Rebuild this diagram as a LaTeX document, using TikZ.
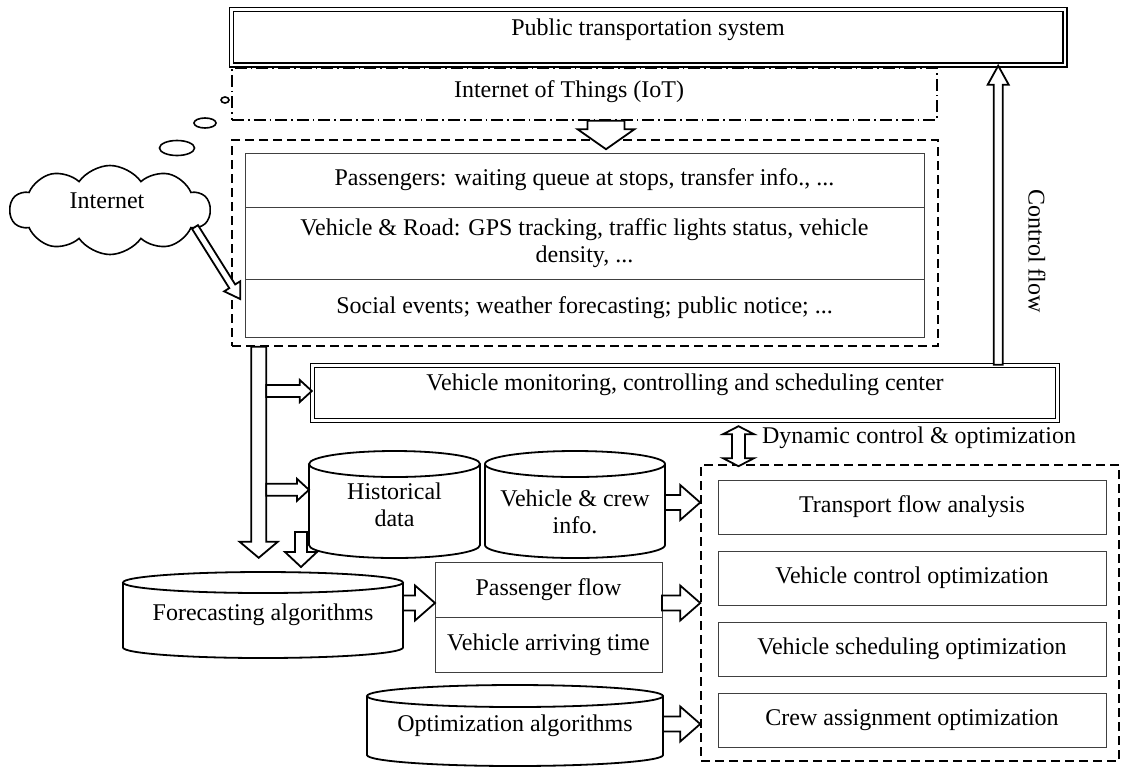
\documentclass[tikz,border=0pt]{standalone}
\usepackage{fontspec}
\setmainfont{Liberation Serif}
\usetikzlibrary{calc,positioning,shapes.symbols}

\tikzset{
  every node/.style={font=\fontsize{12pt}{13.5pt}\selectfont},
  dblbox/.style={draw, double, line width=0.7pt, double distance=1.3pt, inner sep=0pt},
  cell/.style={draw=black!75, line width=0.5pt, inner sep=2pt, outer sep=0pt, align=center},
  dashbox/.style={draw, line width=0.8pt, dash pattern=on 4.5pt off 2.5pt, inner sep=0pt},
  dotbox/.style={draw, line width=0.8pt, dash pattern=on 6pt off 2pt on 0.8pt off 2pt, inner sep=0pt},
  drum/.style={align=center, inner sep=0pt, outer sep=0pt},
  drumline/.style={draw, line width=0.9pt},
  bubble/.style={draw, line width=0.8pt},
  arrowline/.style={draw, fill=white, line width=0.9pt, line join=miter},
}

% cylinder round a node: node, half width, cap radius
\newcommand{\drum}[3]{%
  \draw[drumline] ($(#1.north west)+(0pt,-#3)$) -- ($(#1.south west)+(0pt,#3)$)
    arc[start angle=180, end angle=360, x radius=#2, y radius=#3] -- ($(#1.north east)+(0pt,-#3)$);
  \draw[drumline] ($(#1.north)+(0pt,-#3)$) ellipse [x radius=#2, y radius=#3];}
% hollow block arrow: from, to, half shaft, half head, head length
\newcommand{\fatarrow}[5]{%
  \coordinate (hb) at ($(#2)!#5!(#1)$);
  \draw[arrowline] ($(#1)!#3!90:(#2)$) -- ($(hb)!#3!-90:(#1)$) -- ($(hb)!#4!-90:(#1)$) -- (#2)
    -- ($(hb)!#4!90:(#1)$) -- ($(hb)!#3!90:(#1)$) -- ($(#1)!#3!-90:(#2)$) -- cycle;}
\newcommand{\fatdarrow}[5]{%
  \coordinate (ha) at ($(#1)!#5!(#2)$);
  \coordinate (hb) at ($(#2)!#5!(#1)$);
  \draw[arrowline] (#1) -- ($(ha)!#4!90:(#2)$) -- ($(ha)!#3!90:(#2)$) -- ($(hb)!#3!-90:(#1)$)
    -- ($(hb)!#4!-90:(#1)$) -- (#2) -- ($(hb)!#4!90:(#1)$) -- ($(hb)!#3!90:(#1)$)
    -- ($(ha)!#3!-90:(#2)$) -- ($(ha)!#4!-90:(#2)$) -- cycle;}

\begin{document}
\begin{tikzpicture}[x=0.5pt,y=-0.5pt]
\useasboundingbox (0,0) rectangle (1122,766);

\node[dblbox, minimum width=416.75pt, minimum height=27.75pt] (pts) at (648.25,37.25) {};
\node (ptstxt) at (648,30) {Public transportation system};
\node[dotbox, minimum width=352.5pt, minimum height=26pt] (iot) at (584.5,94) {};
\node (iottxt) at (569,92) {Internet of Things (IoT)};

\node[dashbox, minimum width=353pt, minimum height=103pt] (sens) at (585,243) {};
\node[cell, minimum width=339.5pt, minimum height=27pt] (pas) at (584.5,180) {Passengers: waiting queue at stops, transfer info., ...};
\node[cell, minimum width=339.5pt, minimum height=36pt, below=0pt of pas] (vrd) {Vehicle \& Road: GPS tracking, traffic lights status, vehicle\\density, ...};
\node[cell, minimum width=339.5pt, minimum height=29pt, below=0pt of vrd] (soc) {Social events; weather forecasting; public notice; ...};

\node[cloud, draw, line width=0.8pt, cloud puffs=10, cloud puff arc=110, aspect=2.25, minimum width=100pt, minimum height=44.5pt] (inet) at (110,210) {};
\node (inettxt) at (107,201) {Internet};
\draw[bubble] (177,148) ellipse [x radius=8.75pt, y radius=3.75pt];
\draw[bubble] (205,123) ellipse [x radius=5.5pt, y radius=2.5pt];
\draw[bubble] (225,100) ellipse [x radius=2pt, y radius=1.5pt];

\node[dblbox, minimum width=372.5pt, minimum height=27.5pt] (mcc) at (685,393) {};
\node (mcctxt) at (685,385) {Vehicle monitoring, controlling and scheduling center};

\node[drum, minimum width=85.5pt, minimum height=53.5pt] (hist) at (394.5,504.5) {Historical\\data};
\drum{hist}{42.75pt}{6.5pt}
\node[drum, minimum width=90pt, minimum height=53.5pt] (vcr) at (575,504.5) {};
\drum{vcr}{45pt}{6.5pt}
\node[align=center] (vcrtxt) at (575,511.5) {Vehicle \& crew\\info.};
\node[drum, minimum width=140pt, minimum height=43pt] (fca) at (263,615) {Forecasting algorithms};
\drum{fca}{70pt}{5.25pt}
\node[drum, minimum width=148pt, minimum height=40.5pt] (ocy) at (515,725.5) {Optimization algorithms};
\drum{ocy}{74pt}{5.5pt}

\node[cell, minimum width=113.5pt, minimum height=27.5pt] (pfl) at (548.5,589.5) {Passenger flow};
\node[cell, minimum width=113.5pt, minimum height=27.5pt, below=0pt of pfl] (vat) {Vehicle arriving time};

\node[dashbox, minimum width=209pt, minimum height=148pt] (optbox) at (910,613) {};
\node[cell, minimum width=194pt, minimum height=27pt] (tfa) at (912,507) {Transport flow analysis};
\node[cell, minimum width=194pt, minimum height=27pt, below=8.5pt of tfa] (vco) {Vehicle control optimization};
\node[cell, minimum width=194pt, minimum height=27pt, below=8.5pt of vco] (vso) {Vehicle scheduling optimization};
\node[cell, minimum width=194pt, minimum height=27pt, below=8.5pt of vso] (cao) {Crew assignment optimization};

\node[rotate=-90] (cflow) at (1037,251) {Control flow};
\node[anchor=west] (dyn) at (755,438) {Dynamic control \& optimization};

\coordinate (io1) at ($(iot.south)+(21.5,0)$);
\coordinate (io2) at ($(io1 |- sens.north)+(0,10)$);
\fatarrow{io1}{io2}{9.25pt}{14.25pt}{10pt}

\coordinate (in1) at ($(inet.center)+(85,17)$);
\coordinate (in2) at ($(sens.west)+(9,56)$);
\fatarrow{in1}{in2}{1.75pt}{4.75pt}{7.5pt}

\coordinate (trtop) at ($(sens.south west)+(27.5,0)$);
\coordinate (trend) at ($(trtop)+(0,211)$);
\fatarrow{trtop}{trend}{3.75pt}{9.5pt}{8pt}
\coordinate (br1) at ($(trtop |- mcc.west)+(7.5,-2)$);
\coordinate (br1e) at (br1 -| mcc.west);
\fatarrow{br1}{br1e}{3pt}{5.5pt}{6pt}
\coordinate (br2) at ($(trtop)+(7.5,143)$);
\coordinate (br2e) at (br2 -| hist.west);
\fatarrow{br2}{br2e}{3pt}{5.5pt}{6pt}

\coordinate (hd1) at ($(hist.west)+(-8,27.5)$);
\coordinate (hd2) at ($(hd1 |- fca.north)+(0,-5)$);
\fatarrow{hd1}{hd2}{3pt}{8pt}{7.5pt}

\coordinate (vc1) at ($(vcr.east)+(0,-2)$);
\coordinate (vc2) at (vc1 -| optbox.west);
\fatarrow{vc1}{vc2}{3.75pt}{8.75pt}{10pt}
\coordinate (fc1) at ($(fca.east)+(0,-12)$);
\coordinate (fc2) at (fc1 -| pfl.west);
\fatarrow{fc1}{fc2}{3.75pt}{8.75pt}{10pt}
\coordinate (pf1) at ($(pfl.east)+(0,13.5)$);
\coordinate (pf2) at (pf1 -| optbox.west);
\fatarrow{pf1}{pf2}{3.75pt}{8.75pt}{10pt}
\coordinate (oc1) at ($(ocy.east)+(0,-1.5)$);
\coordinate (oc2) at (oc1 -| optbox.west);
\fatarrow{oc1}{oc2}{3.75pt}{8.75pt}{10pt}

\coordinate (cf1) at ($(mcc.north east)+(-60,0)$);
\coordinate (cf2) at (cf1 |- pts.south);
\fatarrow{cf1}{cf2}{2.25pt}{5.25pt}{9.5pt}

\coordinate (dy1) at ($(mcc.south)+(53.5,5)$);
\coordinate (dy2) at ($(dy1 |- optbox.north)+(0,2)$);
\fatdarrow{dy1}{dy2}{3.25pt}{7.75pt}{4pt}
\end{tikzpicture}
\end{document}
